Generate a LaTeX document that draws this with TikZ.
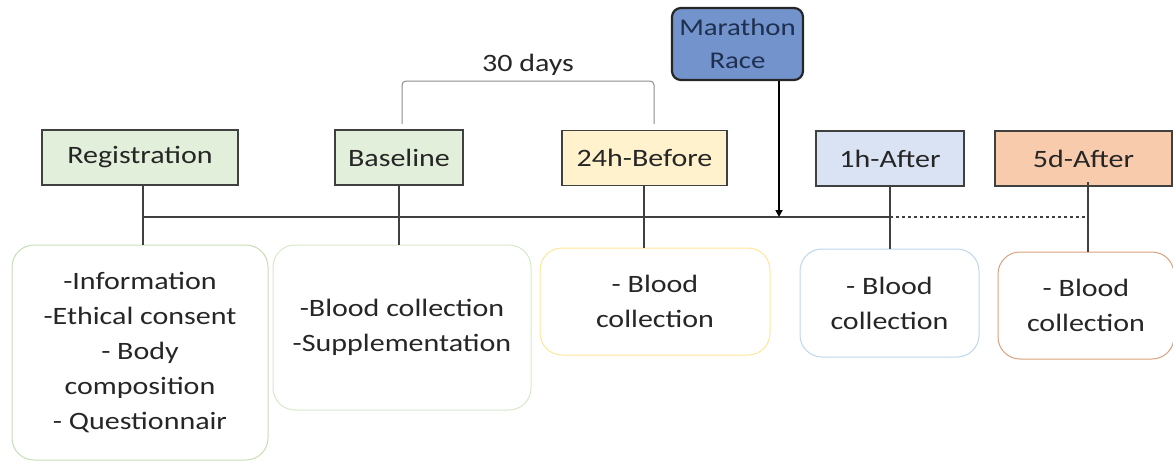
\documentclass[tikz,border=0pt]{standalone}
\usepackage{fontspec}
\setmainfont{Carlito}[FakeStretch=1.2]
\usetikzlibrary{arrows.meta}
\definecolor{gfill}{HTML}{E2EFDA}
\definecolor{yfill}{HTML}{FFF2CC}
\definecolor{bfill}{HTML}{DAE3F3}
\definecolor{ofill}{HTML}{F8CBAD}
\definecolor{mfill}{HTML}{7393CC}
\definecolor{gline}{HTML}{C5E0B4}
\definecolor{yline}{HTML}{FFE699}
\definecolor{bline}{HTML}{BDD7EE}
\definecolor{oline}{HTML}{D9A27E}
\definecolor{txt}{HTML}{262626}
\definecolor{mtxt}{HTML}{1F2F4F}
\definecolor{ln}{HTML}{404040}
\begin{document}
\begin{tikzpicture}[x=1pt,y=-1pt,
  every node/.style={font=\fontsize{25}{35}\selectfont, text=txt},
  phase/.style={draw=ln, line width=1.2pt, minimum height=55pt, inner sep=0pt},
  detail/.style={draw, rounded corners=22pt, line width=1pt, fill=white, align=center, inner sep=0pt},
  conn/.style={draw=ln, line width=1.4pt}]
\useasboundingbox (0,0) rectangle (1173,461);
% phase boxes
\node[phase, fill=gfill, minimum width=196pt] (reg) at (140,157.5) {Registration};
\node[phase, fill=gfill, minimum width=128pt] (base) at (399,157.5) {Baseline};
\node[phase, fill=yfill, minimum width=165pt] (pre) at (644.5,158) {24h-Before};
\node[phase, fill=bfill, minimum width=148pt] (h1) at (890,158.5) {1h-After};
\node[phase, fill=ofill, minimum width=177pt] (d5) at (1083.5,158.5) {5d-After};
% marathon
\node[draw=black!85, line width=2.2pt, fill=mfill, rounded corners=9pt, minimum width=131pt, minimum height=72pt, align=center, inner sep=0pt, text=mtxt, font=\fontsize{24}{33}\selectfont] (mar) at (737.5,44) {Marathon\\Race};
% detail boxes
\node[detail, draw=gline, minimum width=256pt, minimum height=215pt] (regd) at (140,352.5) {-Information\\-Ethical consent\\- Body\\composition\\- Questionnair};
\node[detail, draw=gline!70, minimum width=258pt, minimum height=165pt] (based) at (402,327.5) {-Blood collection\\-Supplementation};
\node[detail, draw=yline, minimum width=230pt, minimum height=107pt] (pred) at (655,301.5) {- Blood\\collection};
\node[detail, draw=bline, minimum width=179pt, minimum height=108pt] (h1d) at (889.5,303) {- Blood\\collection};
\node[detail, draw=oline, minimum width=176pt, minimum height=107pt] (d5d) at (1086,305.5) {- Blood\\collection};
% timeline coordinates
\coordinate (t0) at (143,217);
\coordinate (tb) at (399,217);
\coordinate (tp) at (644,217);
\coordinate (tm) at (779,217);
\coordinate (th) at (890,217);
\coordinate (td) at (1088,217);
\draw[conn] (t0) -- (th);
\draw[ln, line width=2pt, dash pattern=on 2.5pt off 3.5pt] (th) -- (td);
\draw[conn] (reg.south -| t0) -- (regd.north -| t0);
\draw[conn] (base.south -| tb) -- (based.north -| tb);
\draw[conn] (pre.south -| tp) -- (pred.north -| tp);
\draw[conn] (h1.south -| th) -- (h1d.north -| th);
\draw[conn] ([yshift=5pt]d5.south -| td) -- (d5d.north -| td);
\draw[black, line width=2pt, -{Triangle[length=7pt,width=7pt]}] (mar.south -| tm) -- (tm);
% 30 days bracket
\coordinate (bl) at (402,124);
\coordinate (br) at (654,124);
\draw[black!45, line width=1pt, rounded corners=4pt] (bl) -- (402,81) -- node[above=2pt, text=txt] (days) {30 days} (654,81) -- (br);
\end{tikzpicture}
\end{document}
